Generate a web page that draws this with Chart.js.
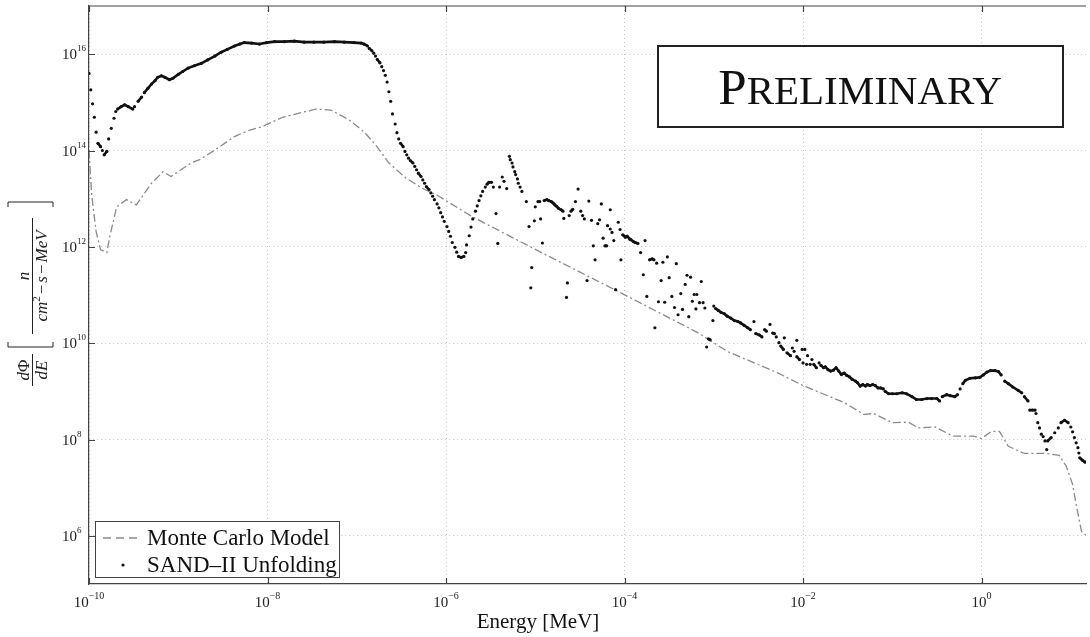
<!DOCTYPE html>
<html>
<head>
<meta charset="utf-8">
<script src="https://cdn.jsdelivr.net/npm/chart.js@4.4.1/dist/chart.umd.min.js"></script>
<style>
  html, body { margin: 0; padding: 0; background: #fff; }
  #wrap { width: 1090px; height: 637px; position: relative; }
</style>
</head>
<body>
<div id="wrap"><canvas id="chart"></canvas></div>
<script>
// values, stored as log10(E [MeV]) and log10(dPhi/dE)
const mcLogE = [-10.00, -9.97, -9.92, -9.87, -9.80, -9.77, -9.69, -9.58, -9.47, -9.30, -9.17, -9.08, -8.85, -8.76,
  -8.59, -8.37, -8.22, -8.07, -7.83, -7.72, -7.46, -7.29, -7.09, -6.92, -6.79, -6.64, -6.45, -6.27, -6.08, -5.71,
  -4.93, -4.11, -3.18, -2.85, -2.29, -1.99, -1.54, -1.32, -1.21, -1.00, -0.82, -0.71, -0.52, -0.32, -0.09, 0.00,
  0.11, 0.20, 0.30, 0.48, 0.73, 0.87, 0.95, 1.02, 1.06, 1.12, 1.17];
const mcLogFlux = [14.01, 13.08, 12.31, 11.94, 11.88, 12.19, 12.83, 12.98, 12.87, 13.32, 13.56, 13.46, 13.75, 13.81,
  14.01, 14.29, 14.41, 14.49, 14.69, 14.74, 14.86, 14.84, 14.64, 14.39, 14.12, 13.74, 13.43, 13.22, 13.05, 12.63,
  11.88, 11.11, 10.22, 9.83, 9.39, 9.11, 8.77, 8.52, 8.54, 8.35, 8.36, 8.24, 8.26, 8.07, 8.07, 8.02,
  8.17, 8.17, 7.86, 7.71, 7.71, 7.67, 7.44, 7.07, 6.65, 6.09, 6.01];

const sandLogE = [
  -10.00, -9.98, -9.96, -9.94, -9.92, -9.90, -9.87, -9.85, -9.83, -9.80, -9.78, -9.75, -9.72, -9.70, -9.68, -9.64,
  -9.60, -9.56, -9.51, -9.49, -9.45, -9.41, -9.38, -9.34, -9.30, -9.26, -9.23, -9.19, -9.15, -9.10, -9.06, -9.00,
  -8.95, -8.89, -8.82, -8.74, -8.67, -8.59, -8.52, -8.45, -8.37, -8.31, -8.26, -8.18, -8.09, -8.01, -7.92, -7.81,
  -7.70, -7.59, -7.48, -7.37, -7.25, -7.14, -7.03, -6.95, -6.92, -6.88, -6.86, -6.83, -6.81, -6.79, -6.77, -6.74,
  -6.72, -6.70, -6.68, -6.66, -6.64, -6.62, -6.60, -6.57, -6.55, -6.53, -6.51, -6.48, -6.46, -6.44, -6.42, -6.40,
  -6.37, -6.35, -6.33, -6.31, -6.28, -6.26, -6.24, -6.22, -6.19, -6.17, -6.15, -6.13, -6.10, -6.08, -6.06, -6.04,
  -6.02, -5.99, -5.97, -5.95, -5.93, -5.90, -5.88, -5.86, -5.83, -5.80, -5.78, -5.77, -5.74, -5.72, -5.70, -5.67,
  -5.65, -5.63, -5.61, -5.59, -5.56, -5.54, -5.52, -5.49, -5.47, -5.44, -5.42, -5.40, -5.37, -5.35, -5.32, -5.29,
  -5.28, -5.26, -5.25, -5.23, -5.22, -5.20, -5.19, -5.17, -5.15, -5.10, -5.07, -5.05, -5.04, -5.01, -5.00, -4.97,
  -4.95, -4.94, -4.92, -4.90, -4.87, -4.85, -4.82, -4.80, -4.78, -4.76, -4.74, -4.71, -4.69, -4.68, -4.65, -4.64,
  -4.62, -4.60, -4.58, -4.55, -4.52, -4.49, -4.47, -4.45, -4.42, -4.40, -4.37, -4.35, -4.33, -4.30, -4.28, -4.26,
  -4.24, -4.22, -4.20, -4.19, -4.16, -4.16, -4.14, -4.12, -4.10, -4.07, -4.05, -4.04, -4.02, -3.99, -3.97, -3.94,
  -3.93, -3.90, -3.88, -3.85, -3.82, -3.79, -3.77, -3.75, -3.72, -3.69, -3.67, -3.66, -3.64, -3.62, -3.59, -3.57,
  -3.55, -3.52, -3.50, -3.47, -3.44, -3.42, -3.40, -3.37, -3.35, -3.32, -3.30, -3.28, -3.26, -3.24, -3.22, -3.20,
  -3.19, -3.16, -3.14, -3.12, -3.10, -3.08, -3.06, -3.04, -3.01,
  -3.00, -2.98, -2.95, -2.92, -2.88, -2.85, -2.81, -2.77, -2.73, -2.70, -2.66, -2.62, -2.59, -2.55, -2.53, -2.49,
  -2.46, -2.43, -2.41, -2.37, -2.34, -2.32, -2.30, -2.27, -2.25, -2.22, -2.21, -2.18, -2.14, -2.12, -2.10, -2.07,
  -2.07, -2.04, -2.01, -2.00, -1.98, -1.96, -1.95, -1.92, -1.90, -1.88, -1.85, -1.82, -1.80, -1.77, -1.75, -1.72,
  -1.69, -1.66, -1.63, -1.60, -1.57, -1.54, -1.51, -1.48, -1.45, -1.41, -1.39, -1.36, -1.33, -1.30, -1.28, -1.25,
  -1.22, -1.19, -1.16, -1.13, -1.10, -1.08, -1.04, -1.00, -0.95, -0.89, -0.84, -0.78, -0.73, -0.67, -0.61, -0.56,
  -0.50, -0.47, -0.44, -0.39, -0.35, -0.30, -0.27, -0.24, -0.21, -0.18, -0.13, -0.07, -0.02, 0.02, 0.06, 0.10,
  0.15, 0.19, 0.22, 0.26, 0.30, 0.35, 0.41, 0.45, 0.48, 0.52, 0.54, 0.57, 0.60, 0.61, 0.63, 0.65,
  0.67, 0.69, 0.71, 0.73, 0.74, 0.78, 0.82, 0.86, 0.89, 0.93, 0.97, 1.00, 1.02, 1.04, 1.06, 1.08,
  1.09, 1.10, 1.13, 1.16];
const sandLogFlux = [
  15.60, 15.26, 14.97, 14.69, 14.38, 14.15, 14.08, 14.00, 13.91, 13.98, 14.24, 14.46, 14.67, 14.81, 14.86, 14.91,
  14.95, 14.91, 14.86, 14.91, 15.02, 15.11, 15.20, 15.29, 15.38, 15.45, 15.52, 15.55, 15.52, 15.47, 15.50, 15.58,
  15.64, 15.71, 15.76, 15.81, 15.88, 15.96, 16.04, 16.10, 16.17, 16.21, 16.24, 16.23, 16.21, 16.24, 16.26, 16.26,
  16.27, 16.25, 16.25, 16.25, 16.26, 16.25, 16.24, 16.23, 16.21, 16.17, 16.12, 16.07, 16.02, 15.96, 15.89, 15.82,
  15.74, 15.66, 15.56, 15.42, 15.22, 15.02, 14.76, 14.55, 14.37, 14.24, 14.15, 14.08, 13.98, 13.91, 13.84, 13.79,
  13.74, 13.67, 13.60, 13.53, 13.46, 13.39, 13.32, 13.25, 13.19, 13.12, 13.05, 12.98, 12.89, 12.81, 12.71, 12.62,
  12.53, 12.42, 12.32, 12.22, 12.09, 11.99, 11.89, 11.80, 11.78, 11.80, 11.88, 12.04, 12.23, 12.41, 12.58, 12.74,
  12.85, 12.96, 13.06, 13.15, 13.24, 13.30, 13.34, 13.34, 13.24, 12.69, 12.07, 13.24, 13.45, 13.36, 13.21, 13.88,
  13.81, 13.74, 13.66, 13.56, 13.50, 13.41, 13.32, 13.24, 13.15, 12.94, 12.42, 11.15, 11.57, 12.54, 12.83, 12.94,
  12.94, 12.58, 12.08, 12.96, 12.98, 12.96, 12.94, 12.91, 12.87, 12.84, 12.80, 12.77, 12.74, 12.59, 10.95, 11.25,
  12.65, 12.74, 12.78, 12.94, 13.20, 12.74, 12.65, 12.58, 11.30, 12.95, 12.55, 12.02, 11.73, 12.48, 12.56, 12.89,
  12.18, 12.02, 12.02, 12.44, 12.77, 12.37, 12.30, 12.13, 11.11, 12.51, 12.36, 11.73, 12.25, 12.20, 12.22, 12.16,
  12.15, 12.11, 12.09, 12.07, 11.88, 11.42, 12.13, 10.97, 11.73, 11.75, 11.73, 10.32, 11.66, 10.86, 11.30, 11.68,
  10.85, 11.79, 11.36, 10.97, 10.74, 11.65, 10.59, 11.03, 10.70, 11.22, 11.41, 10.55, 11.37, 10.87, 11.01, 10.71,
  11.01, 10.84, 11.28, 10.84, 10.73, 9.92, 10.09, 10.07, 10.47,
  10.77, 10.72, 10.68, 10.64, 10.61, 10.56, 10.52, 10.47, 10.45, 10.42, 10.37, 10.32, 10.28, 10.45, 10.20, 10.17,
  10.13, 10.28, 10.25, 10.39, 10.21, 10.20, 10.13, 10.01, 9.94, 9.87, 10.11, 9.80, 9.74, 9.90, 9.83, 10.06,
  9.72, 9.66, 9.87, 9.59, 9.87, 9.56, 9.74, 9.56, 9.66, 9.56, 9.49, 9.59, 9.54, 9.49, 9.51, 9.45,
  9.42, 9.44, 9.49, 9.42, 9.35, 9.38, 9.33, 9.30, 9.25, 9.21, 9.18, 9.11, 9.14, 9.11, 9.14, 9.12,
  9.14, 9.12, 9.07, 9.07, 9.05, 9.00, 8.95, 8.95, 8.95, 8.97, 8.95, 8.89, 8.83, 8.83, 8.85, 8.85,
  8.85, 8.80, 8.89, 8.93, 8.91, 8.89, 8.93, 9.05, 9.16, 9.23, 9.27, 9.28, 9.29, 9.34, 9.40, 9.43,
  9.43, 9.41, 9.34, 9.21, 9.16, 9.09, 9.02, 8.97, 8.89, 8.80, 8.61, 8.61, 8.61, 8.54, 8.35, 8.24,
  8.11, 8.06, 7.97, 7.79, 7.97, 8.04, 8.14, 8.24, 8.35, 8.40, 8.35, 8.26, 8.16, 8.04, 7.93, 7.83,
  7.72, 7.62, 7.57, 7.53];

const xTicks = [1e-10, 1e-8, 1e-6, 1e-4, 1e-2, 1e0];
const yTicks = [1e6, 1e8, 1e10, 1e12, 1e14, 1e16];
const xMin = 1e-10, xMax = 14.8;
const yMin = 1e5, yMax = 1e17;

const seriesNames = ['Monte Carlo Model', 'SAND\u2013II Unfolding'];

const SERIF = '"Liberation Serif", "Times New Roman", serif';

function toPoints(logX, logY) {
    return logX.map((e, i) => ({ x: Math.pow(10, e), y: Math.pow(10, logY[i]) }));
}

// dense runs of the unfolding look like a solid trace, steep parts stay dotted
function joinSeg(ctx) {
    const dx = ctx.p1.x - ctx.p0.x;
    const dy = Math.abs(ctx.p1.y - ctx.p0.y);
    return dx > 0 && dx <= 12 && dy <= 1.3 * dx;
}

function supLabel(v) {
    const p = Math.round(Math.log10(v));
    return p < 0 ? '\u2212' + (-p) : String(p);
}

function drawRuns(ctx, runs, cx, baseY) {
    let total = 0;
    runs.forEach(r => { ctx.font = r.font; r.w = ctx.measureText(r.text).width + (r.pad || 0) * 2; total += r.w; });
    let x = cx - total / 2;
    ctx.textAlign = 'left';
    runs.forEach(r => {
        ctx.font = r.font;
        ctx.fillText(r.text, x + (r.pad || 0), baseY + (r.dy || 0));
        x += r.w;
    });
}

const decorations = {
    id: 'decorations',
    afterDraw(chart) {
        const ctx = chart.ctx;
        const area = chart.chartArea;
        const xs = chart.scales.x, ys = chart.scales.y;
        ctx.save();

        // top frame line + inward ticks
        ctx.strokeStyle = '#444';
        ctx.lineWidth = 1.2;
        ctx.beginPath();
        ctx.moveTo(area.left, area.top);
        ctx.lineTo(area.right, area.top);
        xTicks.forEach(v => {
            const px = Math.round(xs.getPixelForValue(v)) + 0.5;
            ctx.moveTo(px, area.top); ctx.lineTo(px, area.top + 6);
            ctx.moveTo(px, area.bottom); ctx.lineTo(px, area.bottom - 6);
        });
        yTicks.forEach(v => {
            const py = Math.round(ys.getPixelForValue(v)) + 0.5;
            ctx.moveTo(area.left, py); ctx.lineTo(area.left + 6, py);
        });
        ctx.stroke();

        // tick labels 10^n
        ctx.fillStyle = '#222';
        ctx.textBaseline = 'alphabetic';
        xTicks.forEach(v => {
            const px = xs.getPixelForValue(v);
            drawRuns(ctx, [
                { font: '15px ' + SERIF, text: '10' },
                { font: '10px ' + SERIF, text: supLabel(v), dy: -8 }
            ], px, 607);
        });
        yTicks.forEach(v => {
            const py = ys.getPixelForValue(v);
            ctx.textAlign = 'left';
            ctx.font = '15px ' + SERIF;
            ctx.fillText('10', 62, py + 5);
            const w = ctx.measureText('10').width;
            ctx.font = '9px ' + SERIF;
            ctx.fillText(supLabel(v), 62 + w, py - 3);
        });

        // x title
        ctx.font = '21px ' + SERIF;
        ctx.textAlign = 'center';
        ctx.fillStyle = '#111';
        ctx.fillText('Energy [MeV]', 538, 628);

        // y title: dPhi/dE [ n / (cm^2 - s - MeV) ]
        ctx.save();
        ctx.translate(32, 297);
        ctx.rotate(-Math.PI / 2);
        ctx.fillStyle = '#222';
        ctx.strokeStyle = '#222';
        ctx.lineWidth = 1;
        const it = 'italic 17px ' + SERIF, up = '17px ' + SERIF;
        drawRuns(ctx, [{ font: it, text: 'd' }, { font: up, text: '\u03A6' }], -73, -3);
        drawRuns(ctx, [{ font: it, text: 'd' }, { font: it, text: 'E' }], -73, 15);
        drawRuns(ctx, [{ font: it, text: 'n' }], 21, -3);
        drawRuns(ctx, [
            { font: it, text: 'cm' },
            { font: '11px ' + SERIF, text: '2', dy: -7 },
            { font: up, text: '\u2212', pad: 2 },
            { font: it, text: 's' },
            { font: up, text: '\u2212', pad: 2 },
            { font: it, text: 'MeV' }
        ], 21, 15);
        ctx.beginPath();
        ctx.moveTo(-89, 0.5); ctx.lineTo(-57, 0.5);
        ctx.moveTo(-37, 0.5); ctx.lineTo(79, 0.5);
        // brackets
        ctx.moveTo(-45, -24); ctx.lineTo(-50, -24); ctx.lineTo(-50, 21); ctx.lineTo(-45, 21);
        ctx.moveTo(90, -24); ctx.lineTo(95, -24); ctx.lineTo(95, 21); ctx.lineTo(90, 21);
        ctx.stroke();
        ctx.restore();

        // legend box
        ctx.fillStyle = '#fff';
        ctx.fillRect(95, 521, 244, 56);
        ctx.strokeStyle = '#444';
        ctx.lineWidth = 1;
        ctx.strokeRect(95.5, 521.5, 244, 56);
        const mcSet = chart.data.datasets[1], sandSet = chart.data.datasets[0];
        ctx.save();
        ctx.strokeStyle = mcSet.borderColor;
        ctx.lineWidth = mcSet.borderWidth;
        ctx.setLineDash([8, 5]);
        ctx.beginPath();
        ctx.moveTo(103, 538); ctx.lineTo(142, 538);
        ctx.stroke();
        ctx.restore();
        ctx.fillStyle = sandSet.pointBackgroundColor;
        ctx.beginPath();
        ctx.arc(123, 565, 1.6, 0, Math.PI * 2);
        ctx.fill();
        ctx.fillStyle = '#111';
        ctx.font = '23px ' + SERIF;
        ctx.textAlign = 'left';
        ctx.fillText(seriesNames[0], 147, 545);
        ctx.fillText(seriesNames[1], 147, 572);

        // PRELIMINARY stamp
        ctx.fillStyle = '#fff';
        ctx.fillRect(657, 45, 407, 83);
        ctx.strokeStyle = '#222';
        ctx.lineWidth = 2;
        ctx.strokeRect(658, 46, 405, 81);
        ctx.fillStyle = '#111';
        drawRuns(ctx, [
            { font: '51px ' + SERIF, text: 'P' },
            { font: '41px ' + SERIF, text: 'RELIMINARY' }
        ], 860, 104);

        ctx.restore();
    }
};

const chart = new Chart(document.getElementById('chart'), {
    type: 'scatter',
    data: {
        datasets: [{
            label: seriesNames[1],
            data: toPoints(sandLogE, sandLogFlux),
            showLine: true,
            borderColor: '#111',
            borderWidth: 2.6,
            pointRadius: 1.6,
            pointBackgroundColor: '#111',
            pointBorderWidth: 0,
            tension: 0,
            segment: {
                borderColor: ctx => joinSeg(ctx) ? undefined : 'rgba(0,0,0,0)'
            }
        }, {
            label: seriesNames[0],
            data: toPoints(mcLogE, mcLogFlux),
            showLine: true,
            borderColor: '#8a8a8a',
            borderWidth: 1.3,
            borderDash: [8, 3, 2, 3],
            pointRadius: 0,
            tension: 0
        }]
    },
    options: {
        responsive: true,
        maintainAspectRatio: false,
        animation: false,
        layout: { padding: { top: 6, right: 0, bottom: 0, left: 0 } },
        plugins: {
            legend: { display: false },
            tooltip: { enabled: false }
        },
        scales: {
            x: {
                type: 'logarithmic',
                min: xMin,
                max: xMax,
                afterBuildTicks: scale => { scale.ticks = xTicks.map(v => ({ value: v })); },
                afterFit: scale => { scale.height = 53; },
                ticks: { display: false },
                grid: { color: '#c4c4c4', lineWidth: 1, drawTicks: false },
                border: { display: true, color: '#444', width: 1.2, dash: [1, 3] }
            },
            y: {
                type: 'logarithmic',
                min: yMin,
                max: yMax,
                afterBuildTicks: scale => { scale.ticks = yTicks.map(v => ({ value: v })); },
                afterFit: scale => { scale.width = 89; },
                ticks: { display: false },
                grid: { color: '#c4c4c4', lineWidth: 1, drawTicks: false },
                border: { display: true, color: '#444', width: 1.2, dash: [1, 3] }
            }
        }
    },
    plugins: [decorations]
});
</script>
</body>
</html>
